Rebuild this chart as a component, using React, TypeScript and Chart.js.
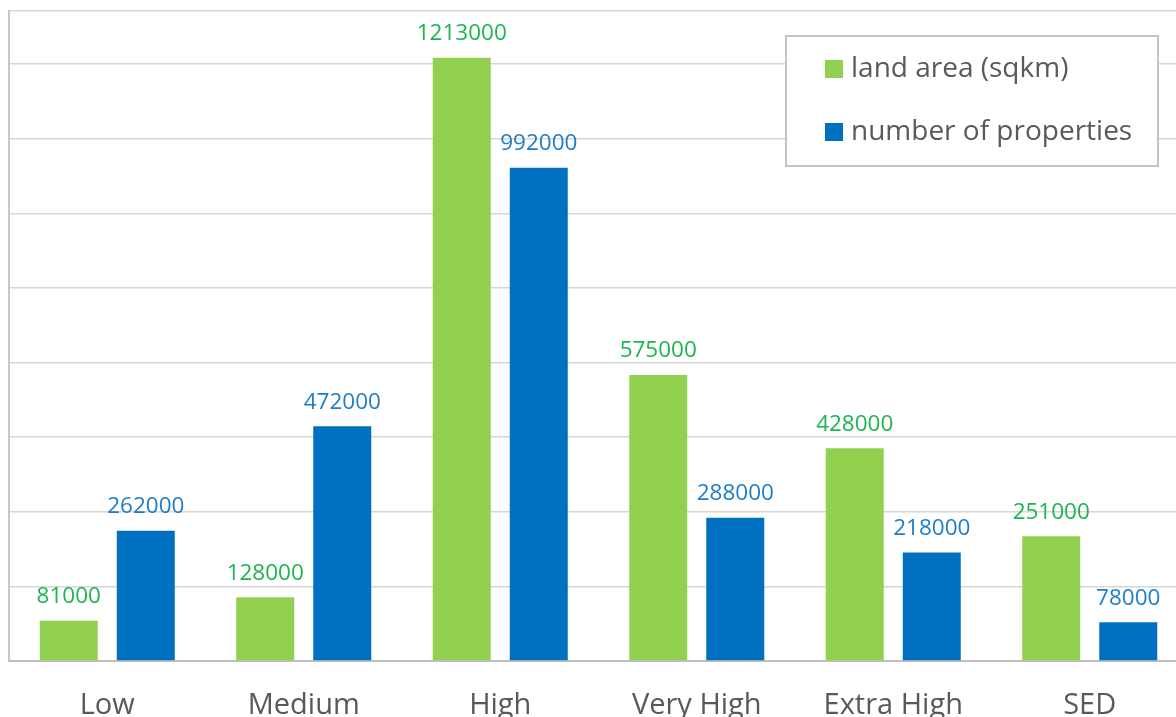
import React, { useEffect, useRef } from "react";
import { Chart, registerables } from "chart.js";

Chart.register(...registerables);

const categories = ["Low", "Medium", "High", "Very High", "Extra High", "SED"];
const landArea = [81000, 128000, 1213000, 575000, 428000, 251000];
const properties = [262000, 472000, 992000, 288000, 218000, 78000];
const seriesNames = ["land area (sqkm)", "number of properties"];
const barColors = ["#92D050", "#0070C0"];
const labelColors = ["#1DB550", "#1E7DC8"];
const yTicks = [0, 150000, 300000, 450000, 600000, 750000, 900000, 1050000, 1200000, 1307000];

const FONT = "'Open Sans', 'Noto Sans', sans-serif";

const dataLabelPlugin = {
  id: "dataLabels",
  afterDatasetsDraw(chart: any) {
    const ctx = chart.ctx;
    ctx.save();
    ctx.font = `22.5px ${FONT}`;
    ctx.textAlign = "center";
    ctx.textBaseline = "middle";
    chart.data.datasets.forEach((ds: any, di: number) => {
      const meta = chart.getDatasetMeta(di);
      ctx.fillStyle = labelColors[di];
      meta.data.forEach((el: any, i: number) => {
        ctx.fillText(String(ds.data[i]), el.x, el.y - 24);
      });
    });
    ctx.restore();
  },
};

const boxLegendPlugin = {
  id: "boxLegend",
  afterDraw(chart: any) {
    const ctx = chart.ctx;
    const bx = 786, by = 36, bw = 372, bh = 130;
    ctx.save();
    ctx.fillStyle = "#ffffff";
    ctx.fillRect(bx, by, bw, bh);
    ctx.strokeStyle = "#c4c4c4";
    ctx.lineWidth = 2;
    ctx.strokeRect(bx, by, bw, bh);
    ctx.font = `28px ${FONT}`;
    ctx.textBaseline = "middle";
    ctx.textAlign = "left";
    chart.data.datasets.forEach((ds: any, di: number) => {
      const cy = 69 + di * 63;
      ctx.fillStyle = ds.backgroundColor;
      ctx.fillRect(825, cy - 9, 18, 18);
      ctx.fillStyle = "#595959";
      ctx.fillText(ds.label, 851, cy);
    });
    ctx.restore();
  },
};

export default function App() {
  const ref = useRef<HTMLCanvasElement | null>(null);
  useEffect(() => {
    if (!ref.current) return;
    const chart = new Chart(ref.current, {
      type: "bar",
      data: {
        labels: categories,
        datasets: [
          { label: seriesNames[0], data: landArea, backgroundColor: barColors[0] },
          { label: seriesNames[1], data: properties, backgroundColor: barColors[1] },
        ],
      },
      options: {
        animation: false,
        responsive: false,
        maintainAspectRatio: false,
        layout: { padding: { left: 9, top: 11, right: 2, bottom: 0 } },
        plugins: { legend: { display: false }, tooltip: { enabled: false } },
        datasets: { bar: { categoryPercentage: 0.784, barPercentage: 0.753 } },
        scales: {
          x: {
            grid: { display: false },
            border: { display: true, color: "#bfbfbf", width: 2 },
            ticks: { color: "#595959", font: { family: FONT, size: 29 }, padding: 19 },
            afterFit: (s: any) => { s.height = 69; },
          },
          y: {
            min: 0,
            max: yTicks[yTicks.length - 1],
            ticks: { display: false },
            afterBuildTicks: (s: any) => { s.ticks = yTicks.map((v) => ({ value: v })); },
            grid: { color: "#d6d6d6", lineWidth: 1.5, drawTicks: false },
            border: { display: true, color: "#c8c8c8", width: 2 },
            afterFit: (s: any) => { s.width = 0; },
          },
        },
      },
      plugins: [dataLabelPlugin, boxLegendPlugin],
    });
    return () => chart.destroy();
  }, []);
  return (
    <div style={{ position: "fixed", left: 0, top: 0, width: 1176, height: 717, overflow: "hidden", background: "#fff" }}>
      <canvas ref={ref} width={1190} height={730} style={{ display: "block" }} />
    </div>
  );
}
